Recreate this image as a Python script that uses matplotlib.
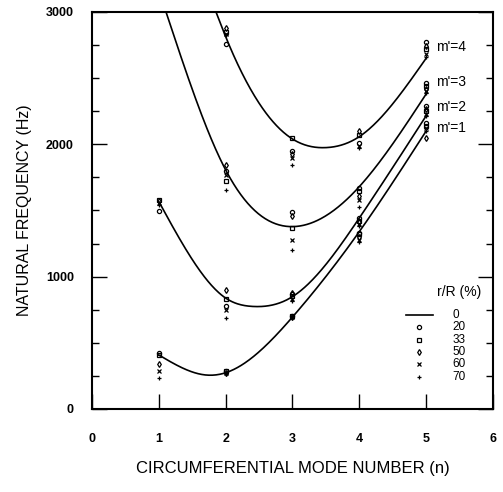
import numpy as np
import matplotlib
matplotlib.use("Agg")
import matplotlib.pyplot as plt

plt.rcParams['font.family'] = ['Liberation Sans', 'DejaVu Sans']

# r/R (%) levels and the marker used for each
ratios = [20, 33, 50, 60, 70]
ratio_markers = ['o', 's', 'd', 'x', '+']
n_modes = [1, 2, 3, 4, 5]

# measured points, one row per n (1..5), one column per r/R (20,33,50,60,70)
m1_pts = [[420, 410, 340, 290, 235],
          [290, 285, 275, 270, 262],
          [705, 700, 698, 692, 688],
          [1330, 1320, 1300, 1280, 1260],
          [2160, 2140, 2050, 2120, 2100]]
m2_pts = [[1495, 1580, 1570, 1560, 1545],
          [780, 830, 900, 750, 685],
          [870, 855, 880, 830, 815],
          [1440, 1420, 1410, 1400, 1380],
          [2290, 2250, 2270, 2230, 2215]]
m3_pts = [[None] * 5,
          [1800, 1720, 1840, 1770, 1655],
          [1490, 1365, 1460, 1280, 1200],
          [1670, 1650, 1610, 1580, 1525],
          [2465, 2440, 2420, 2400, 2385]]
m4_pts = [[None] * 5,
          [2760, 2850, 2880, 2835, 2825],
          [1950, 2050, 1925, 1895, 1840],
          [2010, 2070, 2100, 1990, 1975],
          [2770, 2720, 2745, 2680, 2660]]

# r/R = 0 curves
m1_curve_n = [1, 1.7, 2, 3, 4, 5]
m1_curve_f = [408, 257, 274, 695, 1340, 2100]
m2_curve_n = [1, 2, 2.4, 3, 4, 5]
m2_curve_f = [1567, 838, 775, 849, 1443, 2215]
m3_curve_n = [1.107, 2, 3, 4, 5]
m3_curve_f = [3000, 1806, 1378, 1680, 2380]
m4_curve_n = [1.855, 2, 3, 3.5, 4, 5]
m4_curve_f = [3000, 2813, 2040, 1975, 2058, 2650]

mode_labels = ["m'=1", "m'=2", "m'=3", "m'=4"]
label_f = [2121, 2285, 2473, 2738]


def natural_spline(x, y, xs):
    x = np.asarray(x, float)
    y = np.asarray(y, float)
    k = len(x)
    h = np.diff(x)
    A = np.zeros((k, k))
    r = np.zeros(k)
    A[0, 0] = A[-1, -1] = 1
    for i in range(1, k - 1):
        A[i, i - 1] = h[i - 1]
        A[i, i] = 2 * (h[i - 1] + h[i])
        A[i, i + 1] = h[i]
        r[i] = 3 * ((y[i + 1] - y[i]) / h[i] - (y[i] - y[i - 1]) / h[i - 1])
    c = np.linalg.solve(A, r)
    b = (y[1:] - y[:-1]) / h - h * (2 * c[:-1] + c[1:]) / 3
    d = (c[1:] - c[:-1]) / (3 * h)
    idx = np.clip(np.searchsorted(x, xs) - 1, 0, k - 2)
    dx = xs - x[idx]
    return y[idx] + b[idx] * dx + c[idx] * dx ** 2 + d[idx] * dx ** 3


fig = plt.figure(figsize=(5.03, 4.92), dpi=100)
ax = fig.add_axes([0.183, 0.1687, 0.797, 0.807])

curves = [(m1_curve_n, m1_curve_f), (m2_curve_n, m2_curve_f),
          (m3_curve_n, m3_curve_f), (m4_curve_n, m4_curve_f)]
for cn, cf in curves:
    xs = np.linspace(cn[0], cn[-1], 300)
    ax.plot(xs, natural_spline(cn, cf, xs), color='black', lw=1.2)

for pts in [m1_pts, m2_pts, m3_pts, m4_pts]:
    for j, mk in enumerate(ratio_markers):
        xs = [n for n, row in zip(n_modes, pts) if row[j] is not None]
        ys = [row[j] for row in pts if row[j] is not None]
        ax.plot(xs, ys, ls='none', marker=mk, ms=3, mew=0.9,
                mfc='none', mec='black')

for lab, f in zip(mode_labels, label_f):
    ax.text(5.15, f, lab, fontsize=10, va='center', ha='left')

# legend drawn by hand
ax.text(0.915, 0.295, "r/R (%)", transform=ax.transAxes, fontsize=10,
        ha='center', va='center')
leg_labels = ['0'] + [str(r) for r in ratios]
for i, lab in enumerate(leg_labels):
    yy = 0.237 - i * 0.0312
    if i == 0:
        ax.plot([0.782, 0.85], [yy, yy], color='black', lw=1.2,
                transform=ax.transAxes)
    else:
        ax.plot([0.815], [yy], ls='none', marker=ratio_markers[i - 1], ms=3,
                mew=0.9, mfc='none', mec='black', transform=ax.transAxes)
    ax.text(0.9, yy, lab, transform=ax.transAxes, fontsize=8.5,
            ha='left', va='center')

ax.set_xlim(0, 6)
ax.set_ylim(0, 3000)
ax.set_xticks(range(7))
ax.set_yticks([0, 1000, 2000, 3000])
ax.set_yticks(np.arange(0, 3001, 250), minor=True)
ax.tick_params(axis='x', direction='in', length=11, width=1, pad=17,
               labelsize=9)
ax.tick_params(axis='y', which='major', direction='in', length=11, width=1,
               pad=13, labelsize=9, right=True)
ax.tick_params(axis='y', which='minor', direction='in', length=5, width=1,
               right=True)
for lab in ax.get_xticklabels() + ax.get_yticklabels():
    lab.set_fontweight('bold')
for s in ax.spines.values():
    s.set_linewidth(1.5)

ax.set_xlabel('CIRCUMFERENTIAL MODE NUMBER (n)', fontsize=12, labelpad=12)
ax.set_ylabel('NATURAL FREQUENCY (Hz)', fontsize=11.5, labelpad=10)

fig.savefig('out.png', dpi=100)
